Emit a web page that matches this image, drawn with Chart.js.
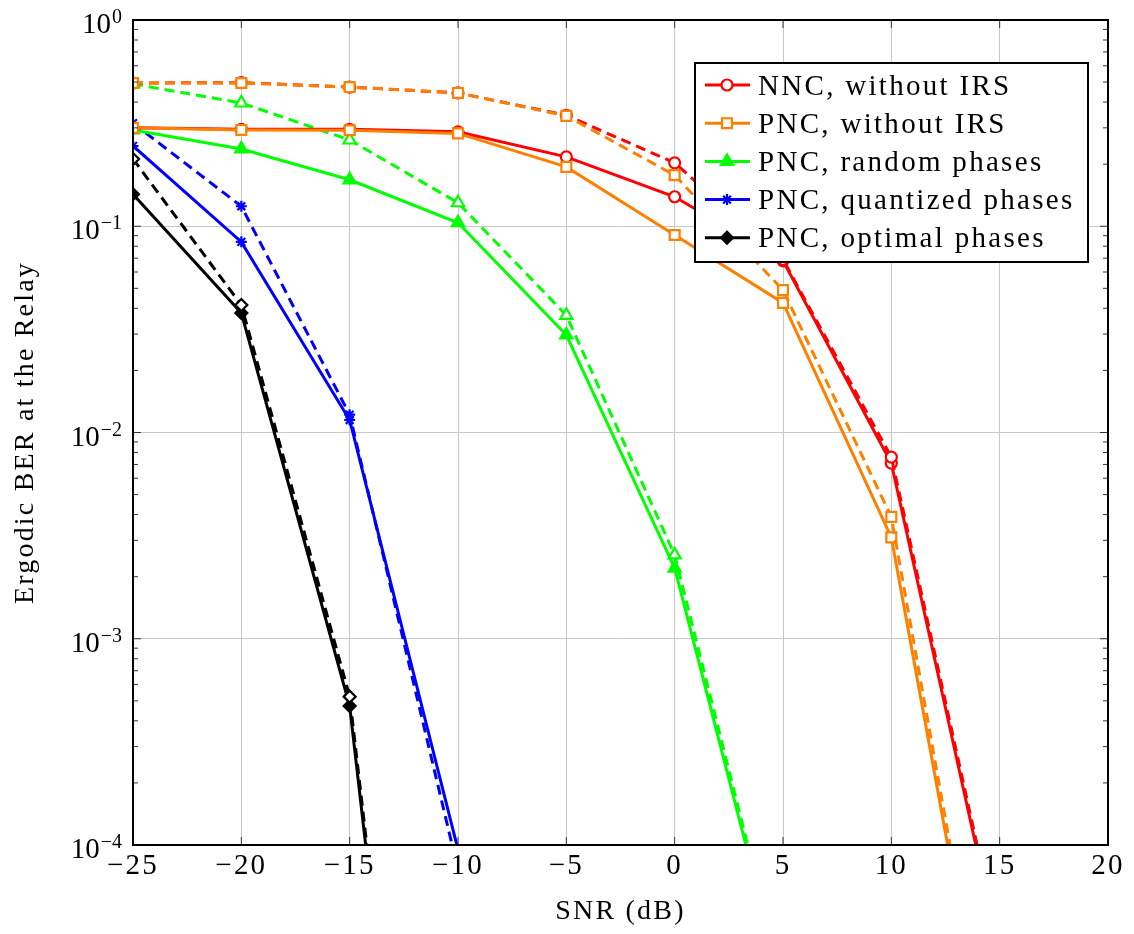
<!DOCTYPE html>
<html>
<head>
<meta charset="utf-8">
<script src="https://cdn.jsdelivr.net/npm/chart.js@4.4.0/dist/chart.umd.min.js"></script>
<style>
  body { margin: 0; background: #fff; }
  #wrap { width: 1134px; height: 934px; }
</style>
</head>
<body>
<div id="wrap"><canvas id="grafico" width="1134" height="934"></canvas></div>
<script>
// SNR (dB) em cada ponto
const snr = [-25, -20, -15, -10, -5, 0, 5, 10, 15];

// BER (linha cheia e tracejada de cada caso)
const nncSemIrs = [0.30, 0.295, 0.295, 0.287, 0.217, 0.139, 0.068, 0.0071, 3.0e-5];
const nncSemIrsTrac = [0.495, 0.497, 0.473, 0.443, 0.345, 0.203, 0.069, 0.0076, 3.2e-5];
const pncSemIrs = [0.30, 0.293, 0.292, 0.282, 0.194, 0.0907, 0.0425, 0.0031, 4.2e-6];
const pncSemIrsTrac = [0.495, 0.495, 0.473, 0.443, 0.343, 0.177, 0.049, 0.0039, 4.5e-6];
const pncAleatorio = [0.293, 0.237, 0.168, 0.104, 0.0297, 0.0022, 2.0e-5];
const pncAleatorioTrac = [0.49, 0.396, 0.262, 0.13, 0.037, 0.00255, 2.1e-5];
const pncQuantizado = [0.245, 0.084, 0.0115, 9.5e-5];
const pncQuantizadoTrac = [0.316, 0.125, 0.0122, 7.6e-5];
const pncOtimo = [0.143, 0.038, 4.72e-4, 1.3e-8];
const pncOtimoTrac = [0.212, 0.0415, 5.24e-4, 1.5e-8];

const xTicks = [-25, -20, -15, -10, -5, 0, 5, 10, 15, 20];
const yTicks = [1e-4, 1e-3, 1e-2, 1e-1, 1];

const legendas = [
  "NNC, without IRS",
  "PNC, without IRS",
  "PNC, random phases",
  "PNC, quantized phases",
  "PNC, optimal phases",
];

const fonte = '"Liberation Serif", "Times New Roman", serif';

function serie(valores, cor, estilo, raio, tracejado, preenchido, ordem) {
  var pontos = [];
  for (var i = 0; i < valores.length; i++) {
    pontos.push({ x: snr[i], y: valores[i] });
  }
  return {
    data: pontos,
    borderColor: cor,
    backgroundColor: cor,
    borderWidth: 3,
    borderDash: tracejado ? [10, 6] : [],
    pointStyle: estilo,
    pointRadius: raio,
    pointHoverRadius: raio,
    pointBorderWidth: 2.2,
    pointBorderColor: cor,
    pointBackgroundColor: preenchido ? cor : "#ffffff",
    tension: 0,
    fill: false,
    order: ordem,
  };
}

// espaçamento das letras (a fonte do original é mais larga)
const espacamento = {
  id: "espacamento",
  beforeDraw(chart) {
    chart.ctx.letterSpacing = "2.2px";
  },
};

// desenha os rotulos 10^n do eixo y
const rotulosY = {
  id: "rotulosY",
  afterDraw(chart) {
    const ctx = chart.ctx;
    const escala = chart.scales.y;
    ctx.save();
    ctx.letterSpacing = "0px";
    ctx.fillStyle = "#000";
    ctx.textAlign = "right";
    ctx.textBaseline = "alphabetic";
    for (const v of yTicks) {
      const y = escala.getPixelForValue(v);
      const exp = Math.round(Math.log10(v));
      const textoExp = exp < 0 ? "\u2212" + Math.abs(exp) : String(exp);
      ctx.font = "20px " + fonte;
      const larg = ctx.measureText(textoExp).width;
      ctx.fillText(textoExp, 122, y + 3);
      ctx.font = "29px " + fonte;
      ctx.fillText("10", 122 - larg - 1, y + 13);
    }
    ctx.restore();
  },
};

// moldura, ticks internos e legenda
const moldura = {
  id: "moldura",
  afterDraw(chart) {
    const ctx = chart.ctx;
    const area = chart.chartArea;
    const ey = chart.scales.y;
    const ex = chart.scales.x;
    ctx.save();

    ctx.strokeStyle = "#333";
    ctx.lineWidth = 1;
    ctx.beginPath();
    for (let d = -4; d < 0; d++) {
      for (let k = 1; k <= 9; k++) {
        const y = ey.getPixelForValue(k * Math.pow(10, d));
        const len = k === 1 ? 8 : 5;
        ctx.moveTo(area.left, y);
        ctx.lineTo(area.left + len, y);
        ctx.moveTo(area.right, y);
        ctx.lineTo(area.right - len, y);
      }
    }
    for (const v of xTicks) {
      const x = ex.getPixelForValue(v);
      ctx.moveTo(x, area.bottom);
      ctx.lineTo(x, area.bottom - 8);
      ctx.moveTo(x, area.top);
      ctx.lineTo(x, area.top + 8);
    }
    ctx.stroke();

    ctx.strokeStyle = "#000";
    ctx.lineWidth = 2;
    ctx.strokeRect(area.left, area.top, area.right - area.left, area.bottom - area.top);

    // legenda
    ctx.fillStyle = "#fff";
    ctx.fillRect(695, 63, 393, 199);
    ctx.strokeRect(695, 63, 393, 199);
    ctx.font = "29px " + fonte;
    ctx.letterSpacing = "2.3px";
    ctx.textAlign = "left";
    ctx.textBaseline = "middle";
    for (let i = 0; i < legendas.length; i++) {
      const ds = chart.data.datasets[i];
      const y = 85 + i * 38.2;
      ctx.setLineDash([]);
      ctx.strokeStyle = ds.borderColor;
      ctx.lineWidth = ds.borderWidth;
      ctx.beginPath();
      ctx.moveTo(705, y);
      ctx.lineTo(750, y);
      ctx.stroke();
      ctx.lineWidth = ds.pointBorderWidth;
      ctx.fillStyle = ds.pointBackgroundColor;
      Chart.helpers.drawPoint(ctx, {
        pointStyle: ds.pointStyle,
        radius: ds.pointRadius,
        borderWidth: ds.pointBorderWidth,
        rotation: 0,
      }, 727, y);
      ctx.fillStyle = "#000";
      ctx.fillText(legendas[i], 758, y + 2);
    }
    ctx.restore();
  },
};

const config = {
  type: "line",
  data: {
    datasets: [
      serie(nncSemIrs, "#ff0000", "circle", 5.5, false, false, 3),
      serie(pncSemIrs, "#ff8000", "rect", 7, false, false, 2),
      serie(pncAleatorio, "#00ff00", "triangle", 7, false, true, 5),
      serie(pncQuantizado, "#0000ff", "star", 5.5, false, false, 7),
      serie(pncOtimo, "#000000", "rectRot", 6, false, true, 9),
      serie(nncSemIrsTrac, "#ff0000", "circle", 5.5, true, false, 1),
      serie(pncSemIrsTrac, "#ff8000", "rect", 7, true, false, 0),
      serie(pncAleatorioTrac, "#00ff00", "triangle", 7, true, false, 4),
      serie(pncQuantizadoTrac, "#0000ff", "star", 5.5, true, false, 6),
      serie(pncOtimoTrac, "#000000", "rectRot", 6, true, false, 8),
    ],
  },
  options: {
    responsive: false,
    animation: false,
    layout: { padding: { top: 20, right: 26, left: 0, bottom: 0 } },
    plugins: {
      legend: { display: false },
      tooltip: { enabled: false },
    },
    scales: {
      x: {
        type: "linear",
        min: -25,
        max: 20,
        afterBuildTicks: (s) => {
          s.ticks = xTicks.map((v) => ({ value: v }));
        },
        afterFit: (s) => {
          s.height = 89;
        },
        ticks: {
          callback: (v) => String(v).replace("-", "\u2212"),
          font: { family: fonte, size: 29 },
          color: "#000",
          padding: 4,
          maxRotation: 0,
          autoSkip: false,
        },
        grid: { color: "#c8c8c8", lineWidth: 1, drawTicks: false },
        border: { display: false },
        title: {
          display: true,
          text: "SNR (dB)",
          font: { family: fonte, size: 28 },
          color: "#000",
          padding: { top: 0, bottom: 6 },
        },
      },
      y: {
        type: "logarithmic",
        min: 1e-4,
        max: 1,
        afterBuildTicks: (s) => {
          s.ticks = yTicks.map((v) => ({ value: v, major: true }));
        },
        afterFit: (s) => {
          s.width = 133;
        },
        ticks: { display: false },
        grid: { color: "#c8c8c8", lineWidth: 1, drawTicks: false },
        border: { display: false },
        title: {
          display: true,
          text: "Ergodic BER at the Relay",
          font: { family: fonte, size: 28 },
          color: "#000",
          padding: { top: 9, bottom: 0 },
        },
      },
    },
  },
  plugins: [espacamento, rotulosY, moldura],
};

new Chart(document.getElementById("grafico"), config);
</script>
</body>
</html>
